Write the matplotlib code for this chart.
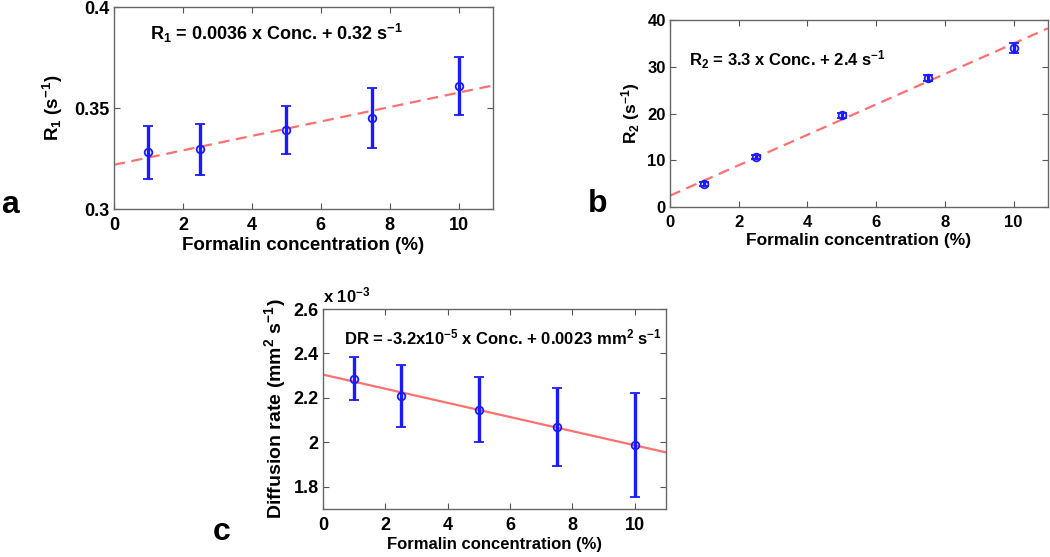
import numpy as np
import matplotlib
matplotlib.use("Agg")
import matplotlib.pyplot as plt
from matplotlib.ticker import FormatStrFormatter

plt.rcParams['font.family'] = ['Liberation Sans', 'DejaVu Sans']
plt.rcParams['font.weight'] = 'bold'
plt.rcParams['axes.labelweight'] = 'bold'
plt.rcParams['mathtext.default'] = 'regular'

# formalin concentration (%)
conc = [1, 2.5, 5, 7.5, 10]

# panel a: R1 (s^-1)
r1 = [0.328, 0.3295, 0.339, 0.345, 0.3608]
r1_err = [0.013, 0.0126, 0.012, 0.015, 0.0145]

# panel b: R2 (s^-1)
r2 = [4.86, 10.7, 19.6, 27.6, 34.0]
r2_err = [0.4, 0.4, 0.5, 0.6, 1.1]

# panel c: diffusion rate (x 10^-3 mm^2 s^-1)
dr = [2.287, 2.2075, 2.146, 2.068, 1.988]
dr_err = [0.096, 0.139, 0.146, 0.176, 0.233]

W, H = 1050, 557
fig = plt.figure(figsize=(W / 100, H / 100), dpi=100)


def px_axes(l, t, r, b):
    return fig.add_axes([l / W, 1 - b / H, (r - l) / W, (b - t) / H])


def style(ax, ylim, yticks, fmt, fs=13):
    ax.set_xlim(0, 11)
    ax.set_ylim(*ylim)
    ax.set_xticks([0, 2, 4, 6, 8, 10])
    ax.set_yticks(yticks)
    ax.yaxis.set_major_formatter(FormatStrFormatter(fmt))
    ax.tick_params(direction='in', top=True, right=True, length=4,
                   width=0.8, color='#555555', labelsize=fs, pad=3)
    ax.tick_params(axis='x', pad=6)
    for s in ax.spines.values():
        s.set_color('#666666')
        s.set_linewidth(1.0)


def draw(ax, y, err, ls):
    k = np.polyfit(conc, y, 1)
    xx = np.array([0, 11])
    ax.plot(xx, np.polyval(k, xx), color='#ff7070', lw=1.6, ls=ls, zorder=1)
    ax.errorbar(conc, y, yerr=err, fmt='o', color='#1a1aff', mfc='none',
                ms=5.5, mew=1.3, elinewidth=2.4, capsize=3.5, capthick=2.0,
                zorder=2)


# a
ax1 = px_axes(114, 7, 493, 209)
draw(ax1, r1, r1_err, (0, (5, 3)))
style(ax1, (0.3, 0.4), [0.3, 0.35, 0.4], '%g')
ax1.set_xlabel('Formalin concentration (%)', fontsize=13.5, labelpad=2)
ax1.set_ylabel('R$_1$ (s$^{-1}$)', fontsize=13.5, labelpad=7)
ax1.text(0.095, 0.87, 'R$_1$ = 0.0036 x Conc. + 0.32 s$^{-1}$',
         transform=ax1.transAxes, fontsize=13, va='center')

# b
ax2 = px_axes(670, 20, 1048, 207)
draw(ax2, r2, r2_err, (0, (5, 3)))
style(ax2, (0, 40), [0, 10, 20, 30, 40], '%g', fs=12)
ax2.set_xlabel('Formalin concentration (%)', fontsize=12.5, labelpad=2)
ax2.set_ylabel('R$_2$ (s$^{-1}$)', fontsize=12.5, labelpad=4)
ax2.text(0.05, 0.79, 'R$_2$ = 3.3 x Conc. + 2.4 s$^{-1}$',
         transform=ax2.transAxes, fontsize=12, va='center')

# c
ax3 = px_axes(323, 309, 666, 509)
draw(ax3, dr, dr_err, '-')
style(ax3, (1.7, 2.6), [1.8, 2.0, 2.2, 2.4, 2.6], '%g')
ax3.set_xlabel('Formalin concentration (%)', fontsize=12, labelpad=2)
ax3.set_ylabel('Diffusion rate (mm$^2$ s$^{-1}$)', fontsize=14, labelpad=4)
ax3.text(0.06, 0.86, 'DR = -3.2x10$^{-5}$ x Conc. + 0.0023 mm$^2$ s$^{-1}$',
         transform=ax3.transAxes, fontsize=12, va='center')
ax3.text(0.0, 1.02, 'x 10$^{-3}$', transform=ax3.transAxes, fontsize=12,
         va='bottom', ha='left')

# panel letters
fig.text(1 / W, 1 - 213 / H, 'a', fontsize=23, fontweight='bold')
fig.text(588 / W, 1 - 212 / H, 'b', fontsize=23, fontweight='bold')
fig.text(213 / W, 1 - 540 / H, 'c', fontsize=23, fontweight='bold')

fig.savefig('out.png', dpi=100)
